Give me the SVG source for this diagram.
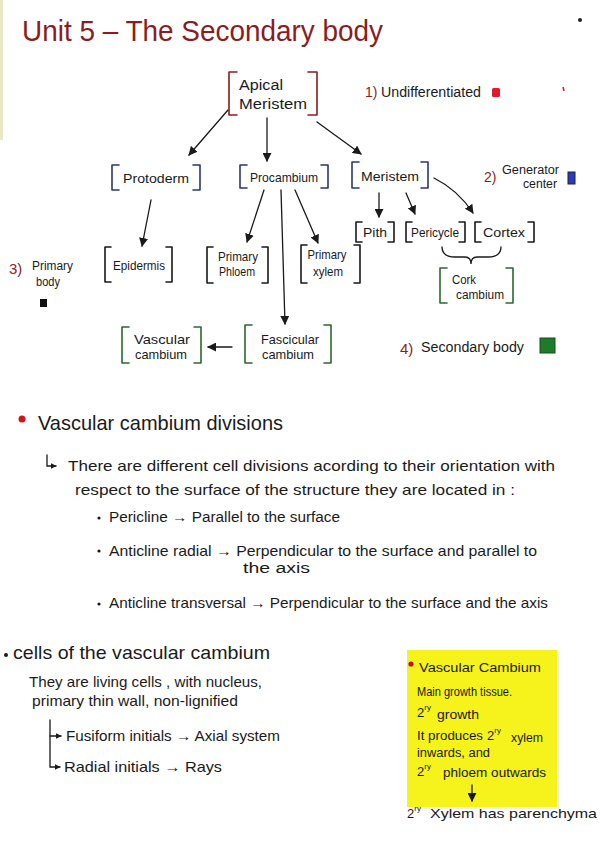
<svg xmlns="http://www.w3.org/2000/svg" width="600" height="848" viewBox="0 0 600 848">
<defs>
<style>
text{font-family:"Liberation Sans","DejaVu Sans",sans-serif;fill:#1a1a1a}
.red{fill:#8b1d1d}
.br{fill:none;stroke-width:1.6;stroke-linecap:round;stroke-linejoin:round}
.bred{stroke:#8b1d1d}
.bblue{stroke:#2b3870}
.bblack{stroke:#1a1a1a}
.bgreen{stroke:#2a6a2e}
.ln{fill:none;stroke:#1a1a1a;stroke-width:1.3;stroke-linecap:round}
.n{font-size:13px;text-anchor:middle}
.body{font-size:15px}
.sn{font-size:13px}
</style>
<marker id="ah" viewBox="0 0 10 10" refX="9" refY="5" markerWidth="9" markerHeight="9" markerUnits="userSpaceOnUse" orient="auto">
<path d="M0,0 L10,5 L0,10 z" fill="#1a1a1a"/>
</marker>
<marker id="ahs" viewBox="0 0 10 10" refX="9" refY="5" markerWidth="6" markerHeight="6" markerUnits="userSpaceOnUse" orient="auto">
<path d="M0,0 L10,5 L0,10 z" fill="#1a1a1a"/>
</marker>
</defs>
<rect width="600" height="848" fill="#ffffff"/>
<rect x="0" y="0" width="3" height="140" fill="#e9e7c4"/>

<!-- Title -->
<text x="22" y="41" font-size="30" class="red" textLength="361" lengthAdjust="spacingAndGlyphs">Unit 5 – The Secondary body</text>
<circle cx="580" cy="20" r="2" fill="#222"/>

<!-- Legend -->
<g id="legend1">
<text x="365" y="97" font-size="14" class="red">1)</text>
<text x="381" y="97" font-size="14" textLength="100" lengthAdjust="spacingAndGlyphs">Undifferentiated</text>
<rect x="492" y="88" width="8" height="9" rx="1.5" fill="#e3182b"/>
<path d="M563 87 l1 4" stroke="#d0202a" stroke-width="1.5"/>
</g>
<g id="legend2">
<text x="484" y="182" font-size="14" class="red">2)</text>
<text x="502" y="174" font-size="12" textLength="57" lengthAdjust="spacingAndGlyphs">Generator</text>
<text x="523" y="188" font-size="12" textLength="34" lengthAdjust="spacingAndGlyphs">center</text>
<rect x="568" y="172" width="7" height="12" fill="#2a3cb8" stroke="#1a1f50" stroke-width="1"/>
</g>
<g id="legend3">
<text x="9" y="274" font-size="15" class="red">3)</text>
<text x="32" y="270" font-size="12" textLength="41" lengthAdjust="spacingAndGlyphs">Primary</text>
<text x="36" y="286" font-size="12" textLength="24" lengthAdjust="spacingAndGlyphs">body</text>
<rect x="40" y="299" width="7" height="8" fill="#111"/>
</g>
<g id="legend4">
<text x="400" y="354" font-size="15" class="red">4)</text>
<text x="421" y="352" font-size="14" textLength="103" lengthAdjust="spacingAndGlyphs">Secondary body</text>
<rect x="540" y="338" width="15" height="15" fill="#1f7a2a" stroke="#155018" stroke-width="1"/>
</g>

<!-- Connectors -->
<g id="connectors">
<line class="ln" x1="228" y1="110" x2="189" y2="155" marker-end="url(#ah)"/>
<line class="ln" x1="267" y1="118" x2="267" y2="161" marker-end="url(#ah)"/>
<line class="ln" x1="317" y1="122" x2="361" y2="154" marker-end="url(#ah)"/>
<line class="ln" x1="151" y1="200" x2="142" y2="246" marker-end="url(#ah)"/>
<line class="ln" x1="264" y1="190" x2="247" y2="242" marker-end="url(#ah)"/>
<line class="ln" x1="281" y1="190" x2="285" y2="324" marker-end="url(#ah)"/>
<line class="ln" x1="295" y1="190" x2="318" y2="243" marker-end="url(#ah)"/>
<line class="ln" x1="379" y1="193" x2="379" y2="217" marker-end="url(#ah)"/>
<line class="ln" x1="406" y1="193" x2="415" y2="214" marker-end="url(#ah)"/>
<path class="ln" d="M434 178 Q458 190 473 213" marker-end="url(#ah)"/>
<line class="ln" x1="232" y1="347" x2="208" y2="347" marker-end="url(#ah)"/>
<path class="ln" d="M442 247 Q442 257 455 257 L465 257 Q471 257 471 264 Q471 257 477 257 L488 257 Q501 257 501 247"/>
</g>

<!-- Nodes -->
<g id="apical">
<path class="br bred" d="M237 72 H229 V115 H237 M308 72 H317 V115 H308"/>
<text x="239" y="90" font-size="14" textLength="44" lengthAdjust="spacingAndGlyphs">Apical</text>
<text x="239" y="109" font-size="14" textLength="68" lengthAdjust="spacingAndGlyphs">Meristem</text>
</g>
<g id="protoderm">
<path class="br bblue" d="M119 165 H112 V190 H119 M193 165 H200 V190 H193"/>
<text x="156" y="183" class="n" textLength="66" lengthAdjust="spacingAndGlyphs">Protoderm</text>
</g>
<g id="procambium">
<path class="br bblue" d="M247 165 H240 V188 H247 M321 165 H328 V188 H321"/>
<text x="284" y="182" class="n" font-size="12" textLength="68" lengthAdjust="spacingAndGlyphs">Procambium</text>
</g>
<g id="meristem">
<path class="br bblue" d="M359 162 H352 V188 H359 M421 162 H428 V188 H421"/>
<text x="390" y="181" class="n" font-size="14" textLength="58" lengthAdjust="spacingAndGlyphs">Meristem</text>
</g>
<g id="epidermis">
<path class="br bblack" d="M111 247 H105 V282 H111 M166 247 H172 V282 H166"/>
<text x="139" y="270" class="n" font-size="12" textLength="52" lengthAdjust="spacingAndGlyphs">Epidermis</text>
</g>
<g id="primary-phloem">
<path class="br bblack" d="M213 247 H207 V283 H213 M262 247 H268 V283 H262"/>
<text x="238" y="261" class="n" font-size="11" textLength="40" lengthAdjust="spacingAndGlyphs">Primary</text>
<text x="237" y="276" class="n" font-size="11" textLength="36" lengthAdjust="spacingAndGlyphs">Phloem</text>
</g>
<g id="primary-xylem">
<path class="br bblack" d="M307 245 H301 V283 H307 M354 245 H360 V283 H354"/>
<text x="327" y="259" class="n" font-size="11" textLength="39" lengthAdjust="spacingAndGlyphs">Primary</text>
<text x="328" y="276" class="n" font-size="11" textLength="30" lengthAdjust="spacingAndGlyphs">xylem</text>
</g>
<g id="pith">
<path class="br bblack" d="M362 222 H356 V242 H362 M388 222 H394 V242 H388"/>
<text x="375" y="237" class="n" textLength="24" lengthAdjust="spacingAndGlyphs">Pith</text>
</g>
<g id="pericycle">
<path class="br bblack" d="M412 222 H406 V242 H412 M459 222 H465 V242 H459"/>
<text x="435" y="237" class="n" font-size="12" textLength="48" lengthAdjust="spacingAndGlyphs">Pericycle</text>
</g>
<g id="cortex">
<path class="br bblack" d="M481 222 H475 V242 H481 M528 222 H534 V242 H528"/>
<text x="504" y="237" class="n" textLength="42" lengthAdjust="spacingAndGlyphs">Cortex</text>
</g>
<g id="cork-cambium">
<path class="br bgreen" d="M447 268 H440 V303 H447 M506 268 H513 V303 H506"/>
<text x="452" y="284" font-size="12" textLength="24" lengthAdjust="spacingAndGlyphs">Cork</text>
<text x="456" y="299" font-size="12" textLength="48" lengthAdjust="spacingAndGlyphs">cambium</text>
</g>
<g id="fascicular-cambium">
<path class="br bgreen" d="M252 325 H245 V363 H252 M324 325 H331 V363 H324"/>
<text x="290" y="344" class="n" textLength="58" lengthAdjust="spacingAndGlyphs">Fascicular</text>
<text x="288" y="359" class="n" textLength="52" lengthAdjust="spacingAndGlyphs">cambium</text>
</g>
<g id="vascular-cambium">
<path class="br bgreen" d="M129 327 H122 V363 H129 M194 327 H201 V363 H194"/>
<text x="162" y="344" class="n" textLength="56" lengthAdjust="spacingAndGlyphs">Vascular</text>
<text x="161" y="359" class="n" textLength="52" lengthAdjust="spacingAndGlyphs">cambium</text>
</g>

<!-- Section: Vascular cambium divisions -->
<g id="divisions">
<circle cx="22" cy="419" r="3.5" fill="#d3121c"/>
<text x="38" y="430" font-size="21" textLength="245" lengthAdjust="spacingAndGlyphs">Vascular cambium divisions</text>
<path class="ln" d="M47 455 V466 H56" marker-end="url(#ahs)"/>
<text x="68" y="471" class="body" textLength="487" lengthAdjust="spacingAndGlyphs">There are different cell divisions acording to their orientation with</text>
<text x="75" y="495" class="body" textLength="440" lengthAdjust="spacingAndGlyphs">respect to the surface of the structure they are located in :</text>
<circle cx="99" cy="518" r="1.6" fill="#1a1a1a"/>
<text x="109" y="522" font-size="14" textLength="231" lengthAdjust="spacingAndGlyphs">Pericline → Parallel to the surface</text>
<circle cx="99" cy="551" r="1.6" fill="#1a1a1a"/>
<text x="109" y="556" class="body" textLength="428" lengthAdjust="spacingAndGlyphs">Anticline radial → Perpendicular to the surface and parallel to</text>
<text x="243" y="573" font-size="14" textLength="67" lengthAdjust="spacingAndGlyphs">the axis</text>
<circle cx="99" cy="604" r="1.6" fill="#1a1a1a"/>
<text x="109" y="608" class="body" textLength="439" lengthAdjust="spacingAndGlyphs">Anticline transversal → Perpendicular to the surface and the axis</text>
</g>

<!-- Section: cells of the vascular cambium -->
<g id="cells">
<circle cx="6" cy="655" r="2" fill="#1a1a1a"/>
<text x="13" y="659" font-size="19" textLength="257" lengthAdjust="spacingAndGlyphs">cells of the vascular cambium</text>
<text x="29" y="687" class="body" textLength="233" lengthAdjust="spacingAndGlyphs">They are living cells , with nucleus,</text>
<text x="32" y="706" class="body" textLength="206" lengthAdjust="spacingAndGlyphs">primary thin wall, non-lignified</text>
<path class="ln" d="M50 720 V767 H60" marker-end="url(#ahs)"/>
<path class="ln" d="M50 736 H61" marker-end="url(#ahs)"/>
<text x="66" y="741" class="body" textLength="214" lengthAdjust="spacingAndGlyphs">Fusiform initials → Axial system</text>
<text x="64" y="772" class="body" textLength="158" lengthAdjust="spacingAndGlyphs">Radial initials → Rays</text>
</g>

<!-- Sticky note -->
<g id="sticky-note">
<rect x="409" y="652" width="150" height="157" fill="#e6e6d8" opacity="0.6"/>
<rect x="407" y="650" width="150" height="157" fill="#f5f21c"/>
<circle cx="411" cy="664" r="2.6" fill="#c0121c"/>
<text x="419" y="672" class="sn" font-size="14" textLength="122" lengthAdjust="spacingAndGlyphs">Vascular Cambium</text>
<text x="417" y="696" class="sn" textLength="95" lengthAdjust="spacingAndGlyphs">Main growth tissue.</text>
<text x="417" y="717" class="sn">2<tspan font-size="8" dy="-7">ry</tspan></text>
<text x="437" y="719" class="sn" textLength="42" lengthAdjust="spacingAndGlyphs">growth</text>
<text x="417" y="740" class="sn" textLength="66" lengthAdjust="spacingAndGlyphs">It produces</text>
<text x="487" y="740" class="sn">2<tspan font-size="8" dy="-7">ry</tspan></text>
<text x="511" y="742" class="sn" textLength="32" lengthAdjust="spacingAndGlyphs">xylem</text>
<text x="417" y="757" class="sn" textLength="73" lengthAdjust="spacingAndGlyphs">inwards, and</text>
<text x="417" y="776" class="sn">2<tspan font-size="8" dy="-7">ry</tspan></text>
<text x="443" y="777" class="sn" textLength="103" lengthAdjust="spacingAndGlyphs">phloem outwards</text>
<line class="ln" x1="472" y1="785" x2="472" y2="801" marker-end="url(#ah)"/>
</g>
<g id="note-caption">
<text x="407" y="818" class="sn">2<tspan font-size="8" dy="-7">ry</tspan></text>
<text x="430" y="818" class="sn" textLength="167" lengthAdjust="spacingAndGlyphs">Xylem has parenchyma</text>
</g>
</svg>
